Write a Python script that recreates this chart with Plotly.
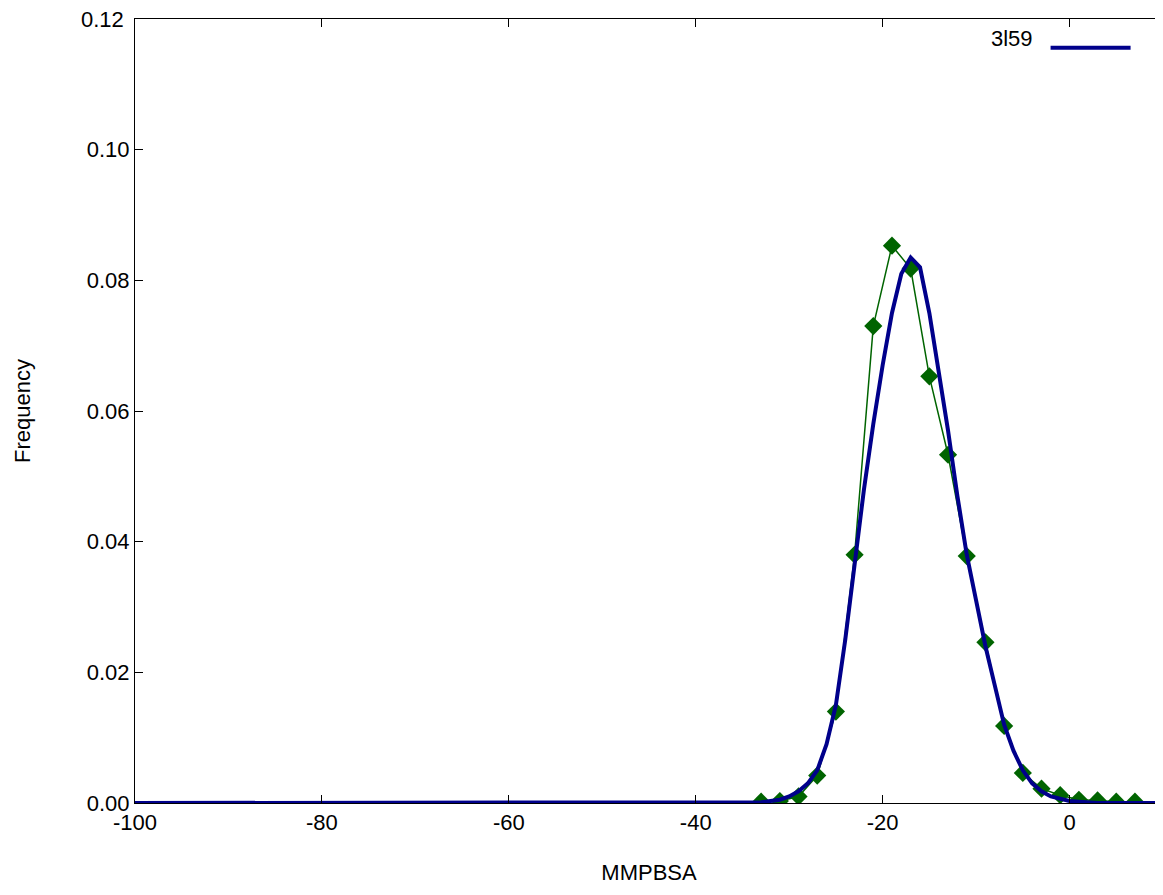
import plotly.graph_objects as go

# histogram points (green diamonds)
hist_x = [-33, -31, -29, -27, -25, -23, -21, -19, -17, -15, -13, -11, -9, -7, -5, -3, -1, 1, 3, 5, 7]
hist_y = [0.0002, 0.0003, 0.0010, 0.0042, 0.0140, 0.0380, 0.0730, 0.0853, 0.0818, 0.0653, 0.0533,
          0.0378, 0.0246, 0.0118, 0.0046, 0.0022, 0.0012, 0.0005, 0.0004, 0.0002, 0.0002]

# smooth fit (blue line)
fit_x = [-100, -36, -35, -34, -33, -32, -31, -30, -29, -28, -27, -26, -25, -24, -23, -22, -21, -20,
         -19, -18, -17, -16, -15, -14, -13, -12, -11, -10, -9, -8, -7, -6, -5, -4, -3, -2, -1,
         0, 1, 2, 3, 10]
fit_y = [0, 0, 0, 0.00005, 0.0001, 0.0003, 0.0005, 0.0010, 0.0018, 0.0030, 0.0050, 0.0090, 0.0150,
         0.0250, 0.0370, 0.0480, 0.0580, 0.0670, 0.0750, 0.0810, 0.0835, 0.0820, 0.0750, 0.0660,
         0.0570, 0.0470, 0.0380, 0.0310, 0.0240, 0.0180, 0.0120, 0.0080, 0.0050, 0.0030, 0.0018,
         0.0010, 0.0006, 0.0003, 0.0002, 0.0001, 0, 0]

x_ticks = [-100, -80, -60, -40, -20, 0]
y_ticks = [0.00, 0.02, 0.04, 0.06, 0.08, 0.10, 0.12]
y_top = y_ticks[-1]

fig = go.Figure()
fig.add_trace(go.Scatter(
    x=hist_x, y=hist_y, mode="lines+markers", showlegend=False,
    line=dict(color="#006400", width=1.5),
    marker=dict(symbol="diamond", size=14, color="#006400"),
))
fig.add_trace(go.Scatter(
    x=fit_x, y=fit_y, mode="lines", name=" ",
    line=dict(color="#00008b", width=4),
))

axis = dict(showgrid=False, zeroline=False, showline=True, linecolor="black", linewidth=1,
            mirror="ticks", ticks="inside", ticklen=8, tickcolor="black",
            tickfont=dict(size=22, color="black"))
fig.update_xaxes(range=[-100, 10], tickvals=x_ticks, ticktext=[str(v) for v in x_ticks],
                 title=dict(text="MMPBSA", font=dict(size=22), standoff=30), **axis)
# top label is drawn as an annotation (plotly drops it at the paper edge)
fig.update_yaxes(range=[0, y_top], tickvals=y_ticks,
                 ticktext=[f"{v:.2f}" if v < y_top else "" for v in y_ticks],
                 title=dict(text="Frequency", font=dict(size=22), standoff=50), **axis)

fig.update_layout(
    width=1155, height=879,
    plot_bgcolor="white", paper_bgcolor="white",
    font=dict(family="Liberation Sans, Arial, sans-serif", color="black"),
    margin=dict(l=127, r=0, t=11, b=84, autoexpand=False),
    legend=dict(x=0.985, y=0.99, xanchor="right", yanchor="top", font=dict(size=22),
                bgcolor="rgba(0,0,0,0)", itemwidth=80),
    annotations=[
        dict(text="3l59", xref="paper", yref="paper", x=0.875, y=0.975,
             xanchor="right", yanchor="middle", showarrow=False, font=dict(size=22)),
        dict(text=f"{y_top:.2f}", xref="paper", yref="y", x=0, y=y_top, xshift=-9,
             xanchor="right", yanchor="middle", showarrow=False, font=dict(size=22)),
    ],
)
fig.write_html("out.html")
